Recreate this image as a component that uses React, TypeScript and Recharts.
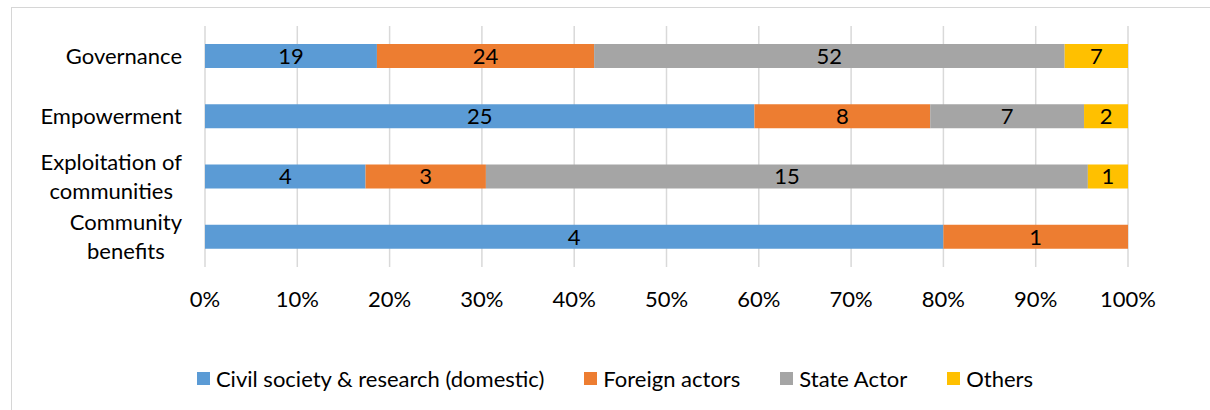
import { BarChart, Bar, XAxis, YAxis, CartesianGrid, Legend, LabelList } from 'recharts';

const categories = ['Governance', 'Empowerment', 'Exploitation of communities', 'Community benefits'];
const categoryLines = [['Governance'], ['Empowerment'], ['Exploitation of', 'communities'], ['Community', 'benefits']];
const civilSociety = [19, 25, 4, 4];
const foreignActors = [24, 8, 3, 1];
const stateActor = [52, 7, 15, 0];
const others = [7, 2, 1, 0];
const xTicks = [0, 0.1, 0.2, 0.3, 0.4, 0.5, 0.6, 0.7, 0.8, 0.9, 1];

const series = [
  { key: 'civil', name: 'Civil society & research (domestic)', color: '#5B9BD5', values: civilSociety },
  { key: 'foreign', name: 'Foreign actors', color: '#ED7D31', values: foreignActors },
  { key: 'state', name: 'State Actor', color: '#A5A5A5', values: stateActor },
  { key: 'others', name: 'Others', color: '#FFC000', values: others },
];

const data = categories.map((name, i) => {
  const row: Record<string, any> = { name, lines: categoryLines[i] };
  series.forEach((s) => {
    row[s.key] = s.values[i];
  });
  return row;
});

const FONT = 'Lato, "Open Sans", sans-serif';
const FONT_SIZE = 22;
const LABEL_RIGHT = 182;

let ctx: CanvasRenderingContext2D | null = null;
const measure = (text: string) => {
  if (!ctx) ctx = document.createElement('canvas').getContext('2d');
  if (!ctx) return text.length * 10;
  ctx.font = `${FONT_SIZE}px ${FONT}`;
  return ctx.measureText(text).width;
};

const CategoryTick = (props: any) => {
  const { y, index } = props;
  const lines: string[] = categoryLines[index] || [String(props.payload.value)];
  const widest = Math.max(...lines.map(measure));
  const cx = LABEL_RIGHT - widest / 2;
  const step = 28.5;
  const start = y - ((lines.length - 1) * step) / 2;
  return (
    <text textAnchor="middle" fontSize={FONT_SIZE} fontFamily={FONT} fill="#000">
      {lines.map((line, i) => (
        <tspan key={i} x={cx} y={start + i * step} dy="0.35em">
          {line}
        </tspan>
      ))}
    </text>
  );
};

const LegendContent = () => (
  <div
    style={{
      display: 'flex',
      justifyContent: 'center',
      alignItems: 'center',
      height: 24,
      fontFamily: FONT,
      fontSize: FONT_SIZE,
      color: '#000',
    }}
  >
    {series.map((s, i) => (
      <div key={s.key} style={{ display: 'flex', alignItems: 'center', marginRight: i < series.length - 1 ? 40 : 0 }}>
        <span style={{ display: 'inline-block', width: 13, height: 13, background: s.color, marginRight: 6 }} />
        <span>{s.name}</span>
      </div>
    ))}
  </div>
);

export default function App() {
  return (
    <div style={{ position: 'absolute', left: 0, top: 0, width: 1210, height: 410, overflow: 'hidden', background: '#fff' }}>
      <div
        style={{
          position: 'absolute',
          left: 11,
          top: 7,
          width: 1300,
          height: 500,
          border: '1px solid #d6d6d6',
        }}
      />
      <div style={{ position: 'absolute', left: 0, top: 0 }}>
        <BarChart
          width={1210}
          height={410}
          data={data}
          layout="vertical"
          stackOffset="expand"
          margin={{ top: 26, right: 82, left: 0, bottom: 20 }}
        >
          <CartesianGrid horizontal={false} stroke="#d9d9d9" strokeWidth={1.5} />
          <XAxis
            type="number"
            domain={[0, 1]}
            ticks={xTicks}
            tickFormatter={(v: number) => `${Math.round(v * 100)}%`}
            axisLine={false}
            tickLine={false}
            tickMargin={18}
            height={99}
            interval={0}
            tick={{ fontSize: FONT_SIZE, fontFamily: FONT, fill: '#000' }}
          />
          <YAxis
            type="category"
            dataKey="name"
            width={205}
            axisLine={false}
            tickLine={false}
            interval={0}
            tick={<CategoryTick />}
          />
          <Legend
            verticalAlign="bottom"
            content={<LegendContent />}
            wrapperStyle={{ left: 0, width: 1230 }}
          />
          {series.map((s) => (
            <Bar
              key={s.key}
              dataKey={s.key}
              name={s.name}
              stackId="a"
              fill={s.color}
              barSize={24}
              isAnimationActive={false}
            >
              <LabelList
                dataKey={s.key}
                position="center"
                formatter={(v: any) => (v ? v : '')}
                fill="#000"
                fontSize={FONT_SIZE}
                fontFamily={FONT}
              />
            </Bar>
          ))}
        </BarChart>
      </div>
    </div>
  );
}
